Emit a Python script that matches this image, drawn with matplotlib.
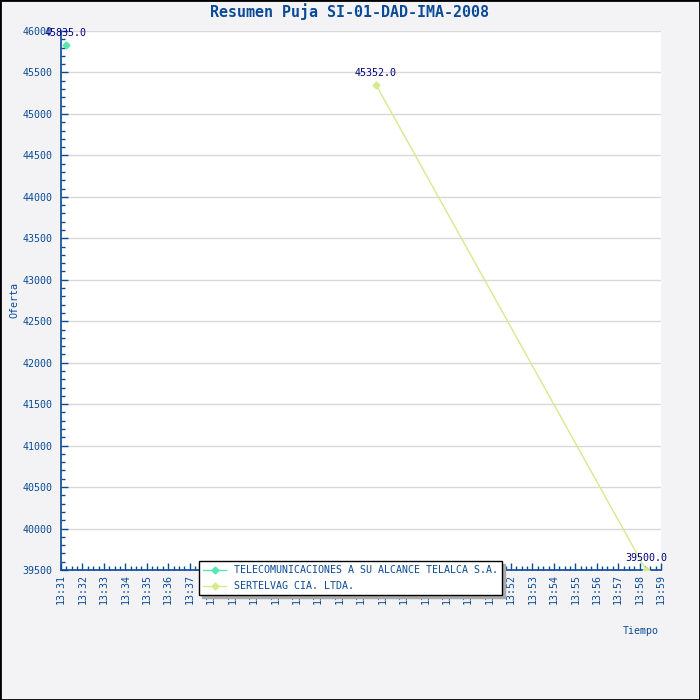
import datetime as dt
import matplotlib
matplotlib.use("Agg")
import matplotlib.pyplot as plt
import matplotlib.dates as mdates
from matplotlib.patches import Rectangle

plt.rcParams['font.family'] = ['DejaVu Sans Mono']

# datos
titulo = "Resumen Puja SI-01-DAD-IMA-2008"
serie1_nombre = "TELECOMUNICACIONES A SU ALCANCE TELALCA S.A."
serie1_horas = ["13:31:14"]
serie1_ofertas = [45835.0]
serie2_nombre = "SERTELVAG CIA. LTDA."
serie2_horas = ["13:45:42", "13:58:18"]
serie2_ofertas = [45352.0, 39500.0]

def a_fecha(h):
    return dt.datetime.strptime("2008-01-01 " + h, "%Y-%m-%d %H:%M:%S")

azul = '#0a4a96'
azul_osc = '#000080'
fondo = '#f3f3f5'

fig = plt.figure(figsize=(7, 7), dpi=100, facecolor=fondo)
ax = fig.add_axes([61/700, 130/700, 600/700, 539/700])
ax.set_facecolor('white')

x1 = [a_fecha(h) for h in serie1_horas]
x2 = [a_fecha(h) for h in serie2_horas]
ax.plot(x1, serie1_ofertas, color='#55e8b0', lw=1, marker='D', ms=3.5,
        label=serie1_nombre, zorder=3)
ax.plot(x2, serie2_ofertas, color='#d4ea8e', lw=1, marker='D', ms=3.5,
        label=serie2_nombre, zorder=3)

for xs, ys in [(x1, serie1_ofertas), (x2, serie2_ofertas)]:
    for x, y in zip(xs, ys):
        ax.annotate(f"{y:.1f}", (x, y), xytext=(0, 5), textcoords='offset points',
                    ha='center', va='bottom', fontsize=7.2, color=azul_osc,
                    annotation_clip=False, zorder=5)

ax.set_xlim(a_fecha("13:31:00"), a_fecha("13:59:00"))
ax.set_ylim(39500, 46000)
ax.xaxis.set_major_locator(mdates.MinuteLocator(interval=1))
ax.xaxis.set_minor_locator(mdates.SecondLocator(bysecond=[15, 30, 45]))
ax.xaxis.set_major_formatter(mdates.DateFormatter('%H:%M'))
ax.yaxis.set_major_locator(plt.MultipleLocator(500))
ax.yaxis.set_minor_locator(plt.MultipleLocator(100))

ax.tick_params(which='both', direction='in', colors=azul, labelsize=7.2, width=1)
ax.tick_params(which='major', length=5)
ax.tick_params(which='minor', length=3)
ax.tick_params(axis='x', labelrotation=90, pad=3)
ax.tick_params(axis='y', pad=6)

ax.grid(axis='y', which='major', color='#d8d8d8', lw=1)
ax.set_axisbelow(True)
for s in ['top', 'right']:
    ax.spines[s].set_visible(False)
for s in ['left', 'bottom']:
    ax.spines[s].set_color(azul)
    ax.spines[s].set_linewidth(1.2)

leg = ax.legend(loc='upper left', bbox_to_anchor=(138/600, 9/539), borderaxespad=0,
                fontsize=7.2, frameon=True, fancybox=False, edgecolor='black',
                framealpha=1, shadow={'color': '#aaaaaa', 'alpha': 1},
                handlelength=2.3, borderpad=0.4, labelspacing=0.6)
leg.get_frame().set_linewidth(1)
leg.set_zorder(10)
for t in leg.get_texts():
    t.set_color(azul)

fig.text(0.5, 1 - 12/700, titulo, ha='center', va='center', fontsize=10.8,
         fontweight='bold', color=azul)
fig.text(14/700, 1 - 300/700, "Oferta", rotation=90, ha='center', va='center',
         fontsize=7.2, color=azul)
fig.text(641/700, 1 - 631/700, "Tiempo", ha='center', va='center',
         fontsize=7.2, color=azul)

fig.patches.append(Rectangle((0, 0), 1, 1, transform=fig.transFigure, fill=False,
                             edgecolor='black', lw=2, zorder=100))

fig.savefig('out.png', dpi=100, facecolor=fondo)
